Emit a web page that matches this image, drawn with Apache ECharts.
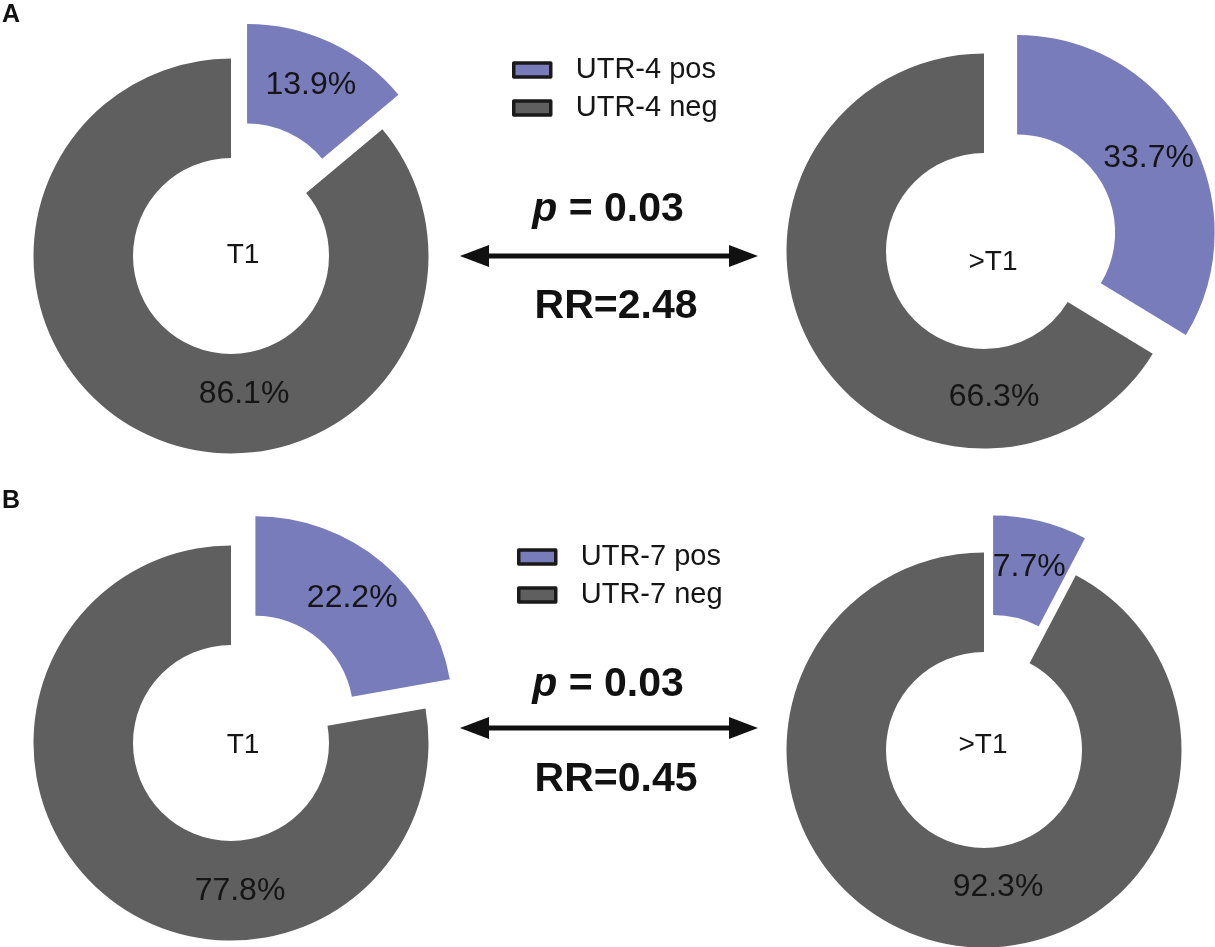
<!DOCTYPE html>
<html>
<head>
<meta charset="utf-8">
<title>UTR donuts</title>
<script src="https://cdn.jsdelivr.net/npm/echarts@6/dist/echarts.min.js"></script>
<style>
    html, body { margin: 0; padding: 0; background: #fff; }
    #main { width: 1215px; height: 947px; }
</style>
</head>
<body>
<div id="main"></div>
<script>
    // data (percent of cases)
    var utr4Names = ['UTR-4 pos', 'UTR-4 neg'];
    var utr7Names = ['UTR-7 pos', 'UTR-7 neg'];
    var stageNames = ['T1', '>T1'];
    var utr4T1 = [13.9, 86.1];
    var utr4OverT1 = [33.7, 66.3];
    var utr7T1 = [22.2, 77.8];
    var utr7OverT1 = [7.7, 92.3];
    var pValues = ['0.03', '0.03'];
    var rrValues = ['2.48', '0.45'];

    var posColor = '#787cba';
    var negColor = '#5f5f5f';
    var font = '"Liberation Sans", Arial, Helvetica, sans-serif';

    // layout of the four donuts (pixel positions)
    var panels = [
        {values: utr4T1, names: utr4Names, stage: 0, center: [231, 256], labels: [[308, 87], [244, 394]], stageAt: [243, 255]},
        {values: utr4OverT1, names: utr4Names, stage: 1, center: [984, 251], labels: [[1145, 153], [994, 397]], stageAt: [993, 262]},
        {values: utr7T1, names: utr7Names, stage: 0, center: [231, 743], labels: [[390, 646], [240, 891]], stageAt: [243, 745]},
        {values: utr7OverT1, names: utr7Names, stage: 1, center: [984, 750], labels: [[1036, 553], [998, 887]], stageAt: [983, 745]}
    ];

    var myChart = echarts.init(document.getElementById('main'));

    var series = panels.map(function (pn) {
        return {
            type: 'pie',
            center: pn.center,
            radius: [98, 197.5],
            startAngle: 90,
            selectedMode: 'single',
            selectedOffset: 38,
            silent: true,
            label: {
                show: true,
                position: 'inside',
                fontFamily: font,
                fontSize: 32,
                color: '#151515',
                formatter: function (p) { return p.value.toFixed(1) + '%'; }
            },
            labelLine: {show: false},
            labelLayout: function (p) {
                var xy = pn.labels[p.dataIndex];
                return {x: xy[0], y: xy[1], align: 'center', verticalAlign: 'middle'};
            },
            emphasis: {disabled: true},
            select: {itemStyle: {borderWidth: 0}},
            data: [
                {name: pn.names[0], value: pn.values[0], selected: true, itemStyle: {color: posColor}},
                {name: pn.names[1], value: pn.values[1], itemStyle: {color: negColor}}
            ]
        };
    });

    function legendAt(names, left, top) {
        return {
            data: names,
            left: left,
            top: top,
            orient: 'vertical',
            padding: 0,
            icon: 'rect',
            itemWidth: 37,
            itemHeight: 14,
            itemGap: 6,
            selectedMode: false,
            itemStyle: {borderColor: '#1a1a1a', borderWidth: 3.5},
            textStyle: {fontFamily: font, fontSize: 29, color: '#151515', lineHeight: 32, padding: [0, 0, 0, 20]}
        };
    }

    // centre labels, panel letters, p / RR annotations and arrows
    var graphic = [];
    panels.forEach(function (pn) {
        graphic.push({
            type: 'text', x: pn.stageAt[0], y: pn.stageAt[1],
            style: {text: stageNames[pn.stage], font: '28px ' + font, fill: '#151515', align: 'center', verticalAlign: 'middle'}
        });
    });
    graphic.push({type: 'text', x: 11, y: 15, style: {text: 'A', font: 'bold 25px ' + font, fill: '#111', align: 'center', verticalAlign: 'middle'}});
    graphic.push({type: 'text', x: 11, y: 501, style: {text: 'B', font: 'bold 25px ' + font, fill: '#111', align: 'center', verticalAlign: 'middle'}});

    var midRows = [
        {pY: 210, arrowY: 256, rrY: 307},
        {pY: 685, arrowY: 728, rrY: 780}
    ];
    midRows.forEach(function (r, i) {
        graphic.push({
            type: 'text', x: 608, y: r.pY,
            style: {
                text: '{i|p} = ' + pValues[i],
                font: 'bold 41px ' + font, fill: '#111', align: 'center', verticalAlign: 'middle',
                rich: {i: {fontStyle: 'italic', fontWeight: 'bold', fontSize: 41, fontFamily: font}}
            }
        });
        graphic.push({
            type: 'text', x: 616, y: r.rrY,
            style: {text: 'RR=' + rrValues[i], font: 'bold 41px ' + font, fill: '#111', align: 'center', verticalAlign: 'middle'}
        });
        graphic.push({type: 'line', shape: {x1: 480, y1: r.arrowY, x2: 738, y2: r.arrowY}, style: {stroke: '#111', lineWidth: 5}});
        graphic.push({type: 'polygon', shape: {points: [[460, r.arrowY], [489, r.arrowY - 11], [489, r.arrowY + 11]]}, style: {fill: '#111'}});
        graphic.push({type: 'polygon', shape: {points: [[758, r.arrowY], [729, r.arrowY - 11], [729, r.arrowY + 11]]}, style: {fill: '#111'}});
    });

    var option = {
        animation: false,
        backgroundColor: '#fff',
        legend: [legendAt(utr4Names, 512, 54), legendAt(utr7Names, 517, 541)],
        series: series,
        graphic: graphic
    };
    myChart.setOption(option);
</script>
</body>
</html>
